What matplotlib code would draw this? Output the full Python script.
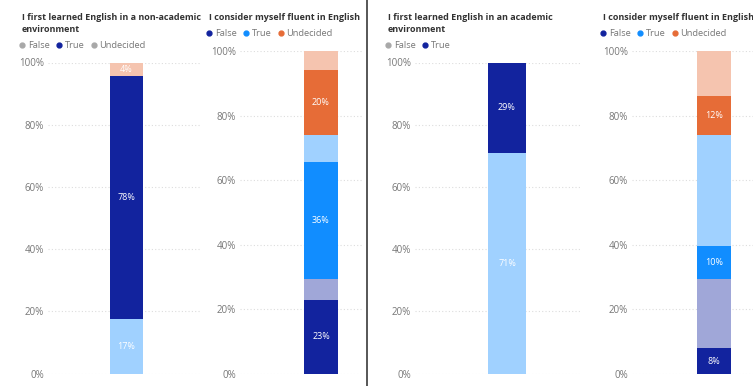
import matplotlib
matplotlib.use("Agg")
import matplotlib.pyplot as plt
from matplotlib.lines import Line2D

plt.rcParams['font.family'] = ['Open Sans', 'DejaVu Sans']

# survey answers, percent of respondents
answers = ["False", "True", "Undecided"]

# "I first learned English in a non-academic environment"
nonacad_values = [17.4, 78.3, 4.3]
# "I consider myself fluent in English" with non-academic = True highlighted
fluent_nonacad_hi = [23, 36, 20]
fluent_nonacad_rest = [6.5, 8.5, 6]

# "I first learned English in an academic environment"
acad_values = [71, 29]
# "I consider myself fluent in English" with academic = True highlighted
fluent_acad_hi = [8, 10, 12]
fluent_acad_rest = [21.5, 34.5, 14]

yticks = [0, 20, 40, 60, 80, 100]
ytick_labels = ["0%", "20%", "40%", "60%", "80%", "100%"]

DARK = "#12239E"
BLUE = "#118DFF"
ORANGE = "#E66C37"
GREY = "#A8A8A8"


def faded(c, a=0.4):
    c = matplotlib.colors.to_rgb(c)
    return tuple(a * v + (1 - a) for v in c)


W, H = 753, 386
fig = plt.figure(figsize=(W / 100, H / 100), dpi=100)


def make_axes(left, right, bottom, top, center, barw):
    ax = fig.add_axes([left / W, (H - bottom) / H, (right - left) / W, (bottom - top) / H])
    ax.set_xlim((left - center) / barw, (right - center) / barw)
    ax.set_ylim(0, 100)
    for s in ax.spines.values():
        s.set_visible(False)
    ax.set_xticks([])
    ax.set_yticks(yticks)
    ax.set_yticklabels(ytick_labels)
    ax.tick_params(axis="y", length=0, pad=3, labelsize=7, labelcolor="#777777")
    ax.grid(axis="y", color="#DDDDDD", linestyle=(0, (1, 2)), linewidth=0.8)
    ax.set_axisbelow(True)
    return ax


def stack(ax, segments):
    # segments: list of (value, color, label or None)
    bottom = 0
    for v, c, lab in segments:
        ax.bar(0, v, width=1, bottom=bottom, color=c, linewidth=0)
        if lab:
            ax.text(0, bottom + v / 2, lab, ha="center", va="center",
                    color="white", fontsize=6.5)
        bottom += v


def title_and_legend(x, y_title, y_leg, title, names, colors):
    fig.text(x / W, 1 - y_title / H, title, ha="left", va="top", fontsize=6.5,
             fontweight="bold", color="#333333", linespacing=1.45)
    handles = [Line2D([], [], marker="o", linestyle="", color=c, markersize=3.5)
               for c in colors]
    fig.legend(handles, names, loc="center left", bbox_to_anchor=(x / W - 0.012, 1 - y_leg / H),
               ncol=len(names), frameon=False, fontsize=6.7, labelcolor="#777777",
               handletextpad=0.0, columnspacing=0.4, handlelength=1.2, borderaxespad=0)


def pct(v):
    return f"{v:.0f}%"


# panel 1: non-academic environment
ax1 = make_axes(48, 200, 373.5, 62.5, 126.5, 33)
cols1 = [faded(BLUE), DARK, faded(ORANGE)]
stack(ax1, [(v, c, pct(v)) for v, c in zip(nonacad_values, cols1)])
title_and_legend(22, 13, 46, "I first learned English in a non-academic\nenvironment",
                 answers, [GREY, DARK, GREY])

# panel 2: fluency, non-academic highlighted
ax2 = make_axes(240, 362, 374, 51, 321, 34)
hi = [DARK, BLUE, ORANGE]
segs = []
for h, r, c in zip(fluent_nonacad_hi, fluent_nonacad_rest, hi):
    segs.append((h, c, pct(h)))
    segs.append((r, faded(c), None))
stack(ax2, segs)
title_and_legend(209, 13, 34, "I consider myself fluent in English", answers, hi)

# panel 3: academic environment
ax3 = make_axes(415, 580, 373.5, 62.5, 507, 38)
cols3 = [faded(BLUE), DARK]
stack(ax3, [(v, c, pct(v)) for v, c in zip(acad_values, cols3)])
title_and_legend(388, 13, 46, "I first learned English in an academic\nenvironment",
                 answers[:2], [GREY, DARK])

# panel 4: fluency, academic highlighted
ax4 = make_axes(632, 753, 374, 51, 714, 34)
segs = []
for h, r, c in zip(fluent_acad_hi, fluent_acad_rest, hi):
    segs.append((h, c, pct(h)))
    segs.append((r, faded(c), None))
stack(ax4, segs)
title_and_legend(603, 13, 34, "I consider myself fluent in English", answers, hi)

# page divider
fig.add_artist(Line2D([367 / W, 367 / W], [0, 1], color="#3A3A3A", linewidth=1.2))

fig.savefig("out.png", dpi=100)
